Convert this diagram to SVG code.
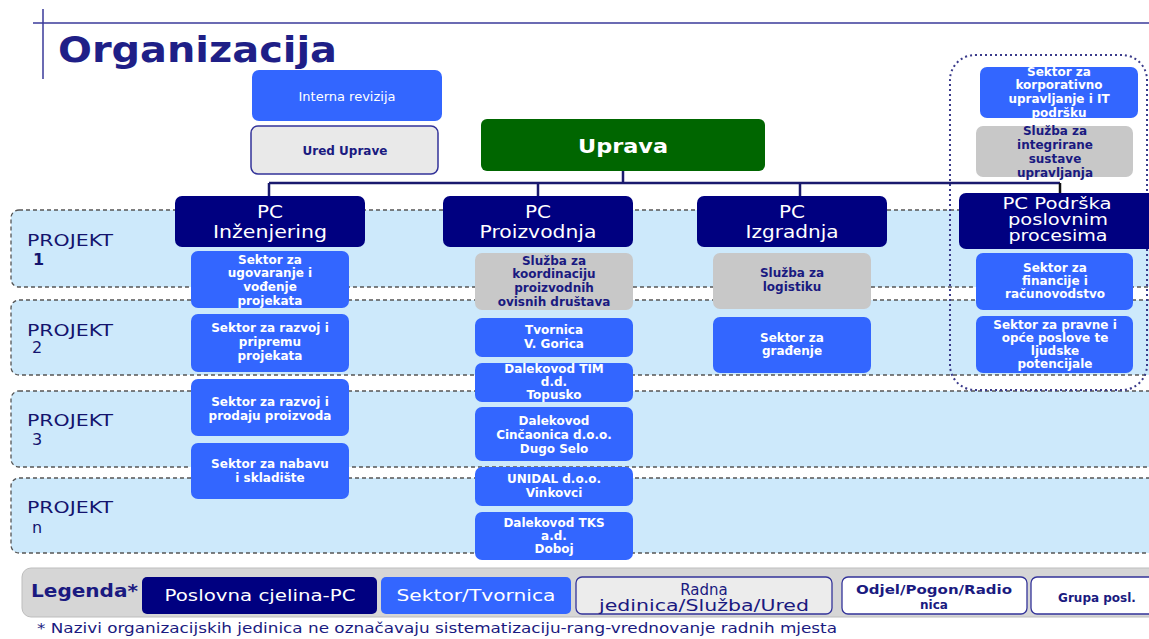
<svg xmlns="http://www.w3.org/2000/svg" width="1149" height="639" viewBox="0 0 1149 639">
<style>
text{font-family:"DejaVu Sans",Verdana,sans-serif}
.c{text-anchor:middle}
.sw{fill:#fff;font-size:12px;font-weight:bold}
.sg{fill:#1a1a80;font-size:12px;font-weight:bold}
.pct{fill:#fff;font-size:17px}
.pcs{fill:#fff;font-size:15px}
.blue{fill:#3366ff}
.gray{fill:#c8c8c8}
.navy{fill:#000080}
.band{fill:#cde9fb;stroke:#555;stroke-width:1.3;stroke-dasharray:4 3}
.proj{fill:#14146e;font-size:16px}
.conn{stroke:#1a1a6e;stroke-width:2.5;fill:none}
.lg{fill:#1a1a80}
</style>
<rect width="1149" height="639" fill="#fff"/>
<!-- title -->
<g id="title">
<line x1="33" y1="23" x2="1149" y2="23" stroke="#3a3a9a" stroke-width="1.5"/>
<line x1="43" y1="9" x2="43" y2="79" stroke="#3a3a9a" stroke-width="1.5"/>
<text x="58" y="62" font-size="36" font-weight="bold" fill="#1f1f87" textLength="279" lengthAdjust="spacingAndGlyphs">Organizacija</text>
</g>
<!-- project bands -->
<g id="bands">
<rect class="band" x="11" y="210" width="1150" height="77" rx="8"/>
<rect class="band" x="11" y="300" width="1150" height="75" rx="8"/>
<rect class="band" x="11" y="391" width="1150" height="76" rx="8"/>
<rect class="band" x="11" y="478" width="1150" height="75" rx="8"/>
<text class="proj" x="27" y="246" textLength="86" lengthAdjust="spacingAndGlyphs">PROJEKT</text>
<text class="proj" x="33" y="265" font-weight="bold">1</text>
<text class="proj" x="27" y="336" textLength="86" lengthAdjust="spacingAndGlyphs">PROJEKT</text>
<text class="proj" x="32" y="353">2</text>
<text class="proj" x="27" y="426" textLength="86" lengthAdjust="spacingAndGlyphs">PROJEKT</text>
<text class="proj" x="32" y="445">3</text>
<text class="proj" x="27" y="513" textLength="86" lengthAdjust="spacingAndGlyphs">PROJEKT</text>
<text class="proj" x="32" y="533">n</text>
</g>
<rect id="support-frame" x="950" y="55" width="197" height="335" rx="25" fill="none" stroke="#3a3a8a" stroke-width="2" stroke-dasharray="2 3"/>
<!-- connectors -->
<g id="connectors">
<path class="conn" d="M269 183H1060M623 171V183M269 183V196M538 183V196M800 183V196"/>
<path d="M1060 183V193" stroke="#111" stroke-width="2.5"/>
</g>
<!-- top nodes -->
<g id="interna-revizija"><rect class="blue" x="252" y="70" width="190" height="51" rx="7"/><text class="c" x="347" y="101" font-size="13" fill="#fff">Interna revizija</text></g>
<g id="ured-uprave"><rect x="251" y="126" width="187" height="48" rx="7" fill="#e9e9e9" stroke="#333399" stroke-width="1.5"/><text class="c sg" x="345" y="155">Ured Uprave</text></g>
<g id="uprava"><rect x="481" y="119" width="284" height="52" rx="6" fill="#006600"/><text class="c" x="623" y="153" font-size="20" font-weight="bold" fill="#fff" textLength="90" lengthAdjust="spacingAndGlyphs">Uprava</text></g>
<!-- PC nodes -->
<g id="pc-inzenjering"><rect class="navy" x="175" y="196" width="190" height="51" rx="7"/><text class="c pct" x="270" y="218" textLength="26" lengthAdjust="spacingAndGlyphs">PC</text><text class="c pct" x="270" y="238" textLength="114" lengthAdjust="spacingAndGlyphs">Inženjering</text></g>
<g id="pc-proizvodnja"><rect class="navy" x="443" y="196" width="190" height="51" rx="7"/><text class="c pct" x="538" y="218" textLength="26" lengthAdjust="spacingAndGlyphs">PC</text><text class="c pct" x="538" y="238" textLength="117" lengthAdjust="spacingAndGlyphs">Proizvodnja</text></g>
<g id="pc-izgradnja"><rect class="navy" x="697" y="196" width="190" height="51" rx="7"/><text class="c pct" x="792" y="218" textLength="26" lengthAdjust="spacingAndGlyphs">PC</text><text class="c pct" x="792" y="238" textLength="93" lengthAdjust="spacingAndGlyphs">Izgradnja</text></g>
<g id="pc-podrska"><rect class="navy" x="959" y="193" width="200" height="56" rx="7"/><text class="c pcs" x="1057" y="209" textLength="109" lengthAdjust="spacingAndGlyphs">PC Podrška</text><text class="c pcs" x="1058" y="225" textLength="100" lengthAdjust="spacingAndGlyphs">poslovnim</text><text class="c pcs" x="1058" y="241" textLength="99" lengthAdjust="spacingAndGlyphs">procesima</text></g>
<!-- column 1 -->
<g id="s-ugovaranje"><rect class="blue" x="191" y="251" width="158" height="57" rx="7"/><text class="c sw"><tspan x="270" y="264">Sektor za</tspan><tspan x="270" y="277">ugovaranje i</tspan><tspan x="270" y="291">vođenje</tspan><tspan x="270" y="305">projekata</tspan></text></g>
<g id="s-razvoj-priprema"><rect class="blue" x="191" y="314" width="158" height="58" rx="7"/><text class="c sw"><tspan x="270" y="332">Sektor za razvoj i</tspan><tspan x="270" y="346">pripremu</tspan><tspan x="270" y="360">projekata</tspan></text></g>
<g id="s-razvoj-prodaja"><rect class="blue" x="191" y="379" width="158" height="57" rx="7"/><text class="c sw"><tspan x="270" y="406">Sektor za razvoj i</tspan><tspan x="270" y="420">prodaju proizvoda</tspan></text></g>
<g id="s-nabava"><rect class="blue" x="191" y="443" width="158" height="56" rx="7"/><text class="c sw"><tspan x="270" y="468">Sektor za nabavu</tspan><tspan x="270" y="482">i skladište</tspan></text></g>
<!-- column 2 -->
<g id="sl-koordinacija"><rect class="gray" x="475" y="253" width="158" height="57" rx="7"/><text class="c sg"><tspan x="554" y="265">Služba za</tspan><tspan x="554" y="278">koordinaciju</tspan><tspan x="554" y="292">proizvodnih</tspan><tspan x="554" y="306">ovisnih društava</tspan></text></g>
<g id="t-vgorica"><rect class="blue" x="475" y="318" width="158" height="39" rx="7"/><text class="c sw"><tspan x="554" y="334">Tvornica</tspan><tspan x="554" y="348">V. Gorica</tspan></text></g>
<g id="t-tim"><rect class="blue" x="475" y="363" width="158" height="39" rx="7"/><text class="c sw"><tspan x="554" y="373">Dalekovod TIM</tspan><tspan x="554" y="386">d.d.</tspan><tspan x="554" y="399">Topusko</tspan></text></g>
<g id="t-cincaonica"><rect class="blue" x="475" y="407" width="158" height="54" rx="7"/><text class="c sw"><tspan x="554" y="425">Dalekovod</tspan><tspan x="554" y="439">Cinčaonica d.o.o.</tspan><tspan x="554" y="453">Dugo Selo</tspan></text></g>
<g id="t-unidal"><rect class="blue" x="475" y="467" width="158" height="39" rx="7"/><text class="c sw"><tspan x="554" y="483">UNIDAL d.o.o.</tspan><tspan x="554" y="497">Vinkovci</tspan></text></g>
<g id="t-tks"><rect class="blue" x="475" y="512" width="158" height="48" rx="7"/><text class="c sw"><tspan x="554" y="527">Dalekovod TKS</tspan><tspan x="554" y="540">a.d.</tspan><tspan x="554" y="553">Doboj</tspan></text></g>
<!-- column 3 -->
<g id="sl-logistika"><rect class="gray" x="713" y="253" width="158" height="56" rx="7"/><text class="c sg"><tspan x="792" y="277">Služba za</tspan><tspan x="792" y="291">logistiku</tspan></text></g>
<g id="s-gradenje"><rect class="blue" x="713" y="317" width="158" height="56" rx="7"/><text class="c sw"><tspan x="792" y="342">Sektor za</tspan><tspan x="792" y="355">građenje</tspan></text></g>
<!-- column 4 -->
<g id="s-korporativno"><rect class="blue" x="980" y="67" width="158" height="51" rx="7"/><text class="c sw"><tspan x="1059" y="76">Sektor za</tspan><tspan x="1059" y="89">korporativno</tspan><tspan x="1059" y="103">upravljanje i IT</tspan><tspan x="1059" y="117">podršku</tspan></text></g>
<g id="sl-integrirane"><rect class="gray" x="976" y="126" width="157" height="51" rx="7"/><text class="c sg"><tspan x="1055" y="135">Služba za</tspan><tspan x="1055" y="149">integrirane</tspan><tspan x="1055" y="163">sustave</tspan><tspan x="1055" y="177">upravljanja</tspan></text></g>
<g id="s-financije"><rect class="blue" x="976" y="253" width="157" height="57" rx="7"/><text class="c sw"><tspan x="1055" y="272">Sektor za</tspan><tspan x="1055" y="285">financije i</tspan><tspan x="1055" y="298">računovodstvo</tspan></text></g>
<g id="s-pravne"><rect class="blue" x="976" y="316" width="157" height="57" rx="7"/><text class="c sw"><tspan x="1055" y="329">Sektor za pravne i</tspan><tspan x="1055" y="342">opće poslove te</tspan><tspan x="1055" y="355">ljudske</tspan><tspan x="1055" y="368">potencijale</tspan></text></g>
<!-- legend -->
<g id="legend">
<rect x="22" y="568" width="1140" height="49" rx="9" fill="#d6d6d6" stroke="#bdbdbd"/>
<text x="31" y="597" font-size="17" font-weight="bold" class="lg" textLength="107" lengthAdjust="spacingAndGlyphs">Legenda*</text>
<rect class="navy" x="142" y="577" width="235" height="37" rx="5"/>
<text class="c" x="260" y="601" font-size="15" fill="#fff" textLength="191" lengthAdjust="spacingAndGlyphs">Poslovna cjelina-PC</text>
<rect class="blue" x="381" y="577" width="190" height="37" rx="5"/>
<text class="c" x="476" y="601" font-size="15" fill="#fff" textLength="159" lengthAdjust="spacingAndGlyphs">Sektor/Tvornica</text>
<rect x="576" y="577" width="256" height="37" rx="6" fill="#ececec" stroke="#333399" stroke-width="1.3"/>
<text class="c lg" x="704" y="595" font-size="15">Radna</text>
<text class="c lg" x="704" y="611" font-size="15" textLength="210" lengthAdjust="spacingAndGlyphs">jedinica/Služba/Ured</text>
<rect x="842" y="577" width="185" height="37" rx="6" fill="#fff" stroke="#333399" stroke-width="1.3"/>
<text class="c lg" x="934" y="594" font-size="12" font-weight="bold" textLength="156" lengthAdjust="spacingAndGlyphs">Odjel/Pogon/Radio</text>
<text class="c lg" x="934" y="609" font-size="12" font-weight="bold">nica</text>
<rect x="1031" y="577" width="130" height="37" rx="6" fill="#fff" stroke="#333399" stroke-width="1.3"/>
<text class="c lg" x="1097" y="602" font-size="12" font-weight="bold">Grupa posl.</text>
</g>
<text x="37" y="633" font-size="14" fill="#1a1a80" textLength="800" lengthAdjust="spacingAndGlyphs">* Nazivi organizacijskih jedinica ne označavaju sistematizaciju-rang-vrednovanje radnih mjesta</text>
</svg>
